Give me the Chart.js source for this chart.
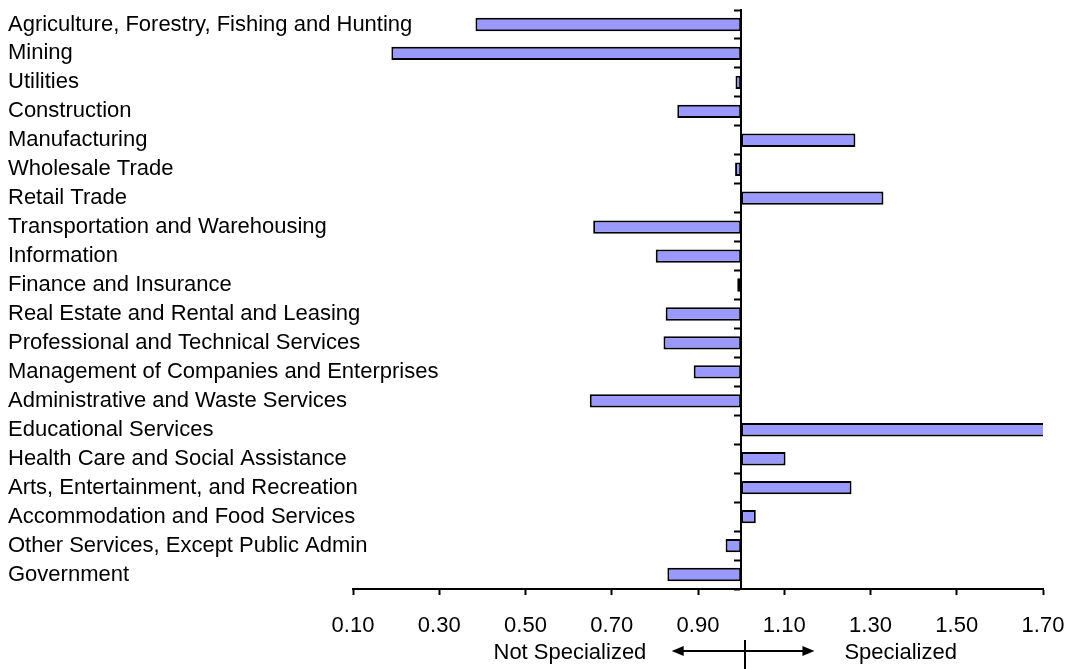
<!DOCTYPE html>
<html>
<head>
<meta charset="utf-8">
<script src="https://cdn.jsdelivr.net/npm/chart.js@4.4.1/dist/chart.umd.min.js"></script>
<style>
  html, body { margin: 0; padding: 0; background: #ffffff; }
  #wrap { width: 1069px; height: 669px; position: relative; }
</style>
</head>
<body>
<div id="wrap"><canvas id="c" width="1069" height="669"></canvas></div>
<script>
// ---- data ----
const categories = [
  "Agriculture, Forestry, Fishing and Hunting",
  "Mining",
  "Utilities",
  "Construction",
  "Manufacturing",
  "Wholesale Trade",
  "Retail Trade",
  "Transportation and Warehousing",
  "Information",
  "Finance and Insurance",
  "Real Estate and Rental and Leasing",
  "Professional and Technical Services",
  "Management of Companies and Enterprises",
  "Administrative and Waste Services",
  "Educational Services",
  "Health Care and Social Assistance",
  "Arts, Entertainment, and Recreation",
  "Accommodation and Food Services",
  "Other Services, Except Public Admin",
  "Government"
];
const locationQuotients = [
  0.384, 0.189, 0.987, 0.852, 1.265, 0.986, 1.330, 0.657, 0.802, 0.991,
  0.825, 0.820, 0.890, 0.649, 1.900, 1.103, 1.256, 1.034, 0.964, 0.829
];
const baseline = 1.0;
const xMin = 0.10;
const xMax = 1.70;
const xStep = 0.20;
const leftNote = "Not Specialized";
const rightNote = "Specialized";

const FONT = "'Liberation Sans', Arial, Helvetica, sans-serif";

const annotationPlugin = {
  id: 'specNote',
  afterDraw(chart) {
    const ctx = chart.ctx;
    const xs = chart.scales.x;
    const px = v => xs.getPixelForValue(v);
    const yArrow = 651;
    ctx.save();
    ctx.strokeStyle = '#000';
    ctx.fillStyle = '#000';
    ctx.lineWidth = 2;
    // vertical divider
    const xv = Math.round(px(1.01));
    ctx.beginPath();
    ctx.moveTo(xv, 640);
    ctx.lineTo(xv, 669);
    ctx.stroke();
    // arrow line
    const xa = px(0.839), xb = px(1.170);
    ctx.beginPath();
    ctx.moveTo(xa + 8, yArrow);
    ctx.lineTo(xb - 8, yArrow);
    ctx.stroke();
    // heads
    ctx.beginPath();
    ctx.moveTo(xa, yArrow);
    ctx.lineTo(xa + 12, yArrow - 5);
    ctx.lineTo(xa + 12, yArrow + 5);
    ctx.closePath();
    ctx.fill();
    ctx.beginPath();
    ctx.moveTo(xb, yArrow);
    ctx.lineTo(xb - 12, yArrow - 5);
    ctx.lineTo(xb - 12, yArrow + 5);
    ctx.closePath();
    ctx.fill();
    // texts
    ctx.font = '22px ' + FONT;
    ctx.textBaseline = 'middle';
    ctx.textAlign = 'center';
    ctx.fillText(leftNote, px(0.603), 653);
    ctx.fillText(rightNote, px(1.370), 653);
    ctx.restore();
  }
};

new Chart(document.getElementById('c'), {
  type: 'bar',
  data: {
    labels: categories,
    datasets: [{
      data: locationQuotients.map(v => [baseline, v]),
      backgroundColor: '#9999FF',
      borderColor: '#000000',
      borderWidth: 2,
      borderSkipped: false,
      barPercentage: 0.46,
      categoryPercentage: 1.0,
      yAxisID: 'y'
    }]
  },
  options: {
    indexAxis: 'y',
    responsive: false,
    animation: false,
    devicePixelRatio: 1,
    layout: { padding: { left: 8, right: 26, top: 10, bottom: 0 } },
    plugins: { legend: { display: false }, tooltip: { enabled: false } },
    scales: {
      x: {
        type: 'linear',
        position: 'bottom',
        min: xMin,
        max: xMax,
        afterBuildTicks(scale) {
          const t = [];
          for (let v = xMin; v <= xMax + 1e-9; v += xStep) t.push({ value: Math.round(v * 100) / 100 });
          scale.ticks = t;
        },
        afterFit(scale) {
          scale.height = 80;
          scale.paddingLeft = 0;
          scale.paddingRight = 0;
        },
        ticks: {
          color: '#000',
          font: { family: FONT, size: 22 },
          padding: 18,
          maxRotation: 0,
          autoSkip: false,
          callback: v => Number(v).toFixed(2)
        },
        grid: {
          drawOnChartArea: false,
          drawTicks: true,
          tickLength: 6,
          tickWidth: 2,
          tickColor: '#000'
        },
        border: { display: true, color: '#000', width: 2 }
      },
      y: {
        type: 'category',
        position: 'left',
        offset: true,
        afterFit(scale) { scale.width = 345; },
        ticks: {
          color: '#000',
          font: { family: FONT, size: 22 },
          mirror: true,
          crossAlign: 'near',
          padding: -345,
          autoSkip: false
        },
        grid: { display: false, drawTicks: false },
        border: { display: false }
      },
      y2: {
        type: 'category',
        axis: 'y',
        position: { x: baseline },
        offset: true,
        ticks: { display: false },
        grid: {
          offset: true,
          drawOnChartArea: false,
          drawTicks: true,
          tickLength: 6,
          tickWidth: 2,
          tickColor: '#000'
        },
        border: { display: true, color: '#000', width: 2 }
      }
    }
  },
  plugins: [annotationPlugin]
});
</script>
</body>
</html>
